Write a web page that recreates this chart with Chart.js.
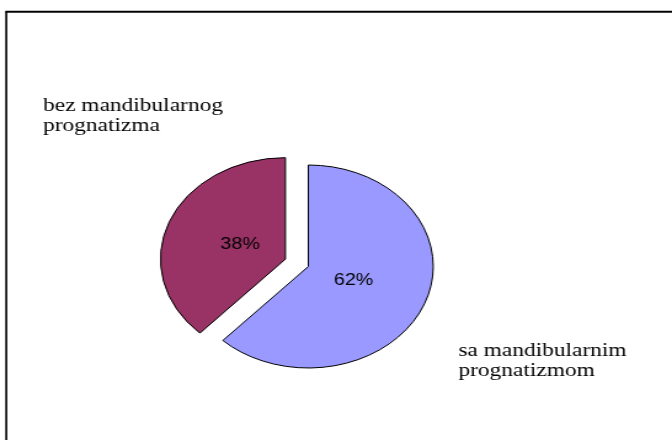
<!DOCTYPE html>
<html>
<head>
<meta charset="utf-8">
<script src="https://cdn.jsdelivr.net/npm/chart.js@4/dist/chart.umd.min.js"></script>
<style>
  html, body { margin: 0; padding: 0; background: #fff; overflow: hidden; }
  #wrap { position: absolute; left: 0; top: 0; width: 546px; height: 440px;
          transform: scaleX(1.2308); transform-origin: 0 0; }
  canvas { display: block; }
</style>
</head>
<body>
<div id="wrap"><canvas id="c" width="546" height="440"></canvas></div>
<script>
const categories = [["sa mandibularnim", "prognatizmom"], ["bez mandibularnog", "prognatizma"]];
const values = [62, 38];
const valueLabels = ["62%", "38%"];

// styling
const sliceColors = ["#9999FF", "#993366"];
const explode = [0, 20];

const framePlugin = {
  id: 'frame',
  beforeDraw(chart) {
    const ctx = chart.ctx;
    ctx.save();
    ctx.strokeStyle = '#000';
    ctx.lineWidth = 1.63;
    ctx.beginPath();
    ctx.moveTo(5.1, 460);
    ctx.lineTo(5.1, 11.8);
    ctx.stroke();
    ctx.lineWidth = 2;
    ctx.beginPath();
    ctx.moveTo(4.3, 11.8);
    ctx.lineTo(600, 11.8);
    ctx.stroke();
    ctx.restore();
  }
};

const explodePlugin = {
  id: 'explode',
  beforeDatasetDraw(chart, args) {
    const ctx = chart.ctx;
    args.meta.data.forEach((arc, i) => {
      const mid = (arc.startAngle + arc.endAngle) / 2;
      const d = explode[i] || 0;
      ctx.save();
      ctx.translate(Math.cos(mid) * d, Math.sin(mid) * d);
      arc.draw(ctx, chart.chartArea);
      ctx.restore();
    });
    return false;
  }
};

const labelPlugin = {
  id: 'sliceLabels',
  afterDatasetsDraw(chart) {
    const ctx = chart.ctx;
    const meta = chart.getDatasetMeta(0);
    ctx.save();
    ctx.fillStyle = '#000';
    ctx.font = '16px "Liberation Sans", Arial, sans-serif';
    ctx.textAlign = 'center';
    ctx.textBaseline = 'middle';
    meta.data.forEach((arc, i) => {
      const mid = (arc.startAngle + arc.endAngle) / 2;
      const r = arc.outerRadius * 0.39 + (explode[i] || 0);
      ctx.fillText(valueLabels[i], arc.x + Math.cos(mid) * r, arc.y + Math.sin(mid) * r);
    });
    ctx.font = '19px "Liberation Serif", "Times New Roman", serif';
    ctx.textAlign = 'left';
    ctx.textBaseline = 'alphabetic';
    const spots = [[372.4, 356], [35, 111]];
    categories.forEach((lines, i) => {
      lines.forEach((t, j) => ctx.fillText(t, spots[i][0], spots[i][1] + j * 20));
    });
    ctx.restore();
  }
};

new Chart(document.getElementById('c'), {
  type: 'pie',
  data: {
    labels: categories.map(l => l.join(' ')),
    datasets: [{
      data: values,
      backgroundColor: sliceColors,
      borderColor: '#000',
      borderWidth: 1,
      borderJoinStyle: 'miter',
      offset: 0,
      hoverOffset: 0
    }]
  },
  options: {
    responsive: false,
    animation: false,
    radius: 101.5,
    layout: { padding: { left: 0, right: 45, top: 93, bottom: 0 } },
    plugins: {
      legend: { display: false },
      tooltip: { enabled: false },
      title: { display: false }
    },
    events: []
  },
  plugins: [framePlugin, explodePlugin, labelPlugin]
});
</script>
</body>
</html>
